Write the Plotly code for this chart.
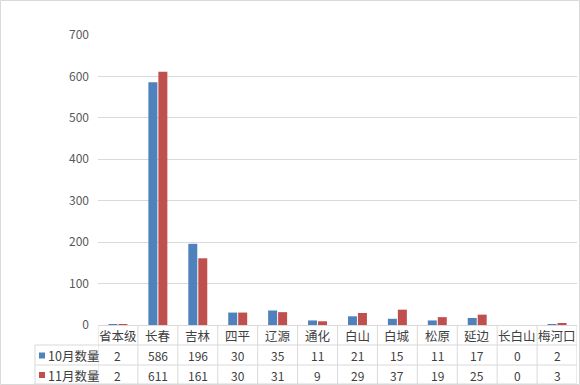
import plotly.graph_objects as go

categories = ["省本级", "长春", "吉林", "四平", "辽源", "通化", "白山", "白城", "松原", "延边", "长白山", "梅河口"]
oct_vals = [2, 586, 196, 30, 35, 11, 21, 15, 11, 17, 0, 2]
nov_vals = [2, 611, 161, 30, 31, 9, 29, 37, 19, 25, 0, 3]
series_names = ["10月数量", "11月数量"]
colors = ["#4F81BD", "#C0504D"]
y_ticks = [0, 100, 200, 300, 400, 500, 600, 700]

W, H = 580, 385
ML, MR, MT, MB = 98, 3, 35, 60
PW = W - ML - MR
PH = H - MT - MB

def py(p):
    return (H - MB - p) / PH

def px(p):
    return (p - ML) / PW

fig = go.Figure()
for name, vals, c in zip(series_names, [oct_vals, nov_vals], colors):
    fig.add_trace(go.Bar(x=categories, y=vals, name=name, marker=dict(color=c, line=dict(width=0))))

cjk = "Noto Sans CJK SC, Microsoft YaHei, sans-serif"
line_col = "#D9D9D9"
txt_col = "#404040"

shapes = []
annotations = []
n = len(categories)
for yy in [345, 365, 384]:
    shapes.append(dict(type="line", xref="paper", yref="paper", x0=px(35), x1=1, y0=py(yy), y1=py(yy),
                       line=dict(color=line_col, width=1)))
for i in range(n + 1):
    shapes.append(dict(type="line", xref="x", yref="paper", x0=i - 0.5, x1=i - 0.5, y0=py(325), y1=py(384),
                       line=dict(color=line_col, width=1)))
shapes.append(dict(type="line", xref="paper", yref="paper", x0=px(35), x1=px(35), y0=py(345), y1=py(384),
                   line=dict(color=line_col, width=1)))
shapes.append(dict(type="rect", xref="paper", yref="paper", x0=px(0.5), x1=px(579.5), y0=py(384.5), y1=py(0.5),
                   line=dict(color="#D9D9D9", width=1)))

for i, cat in enumerate(categories):
    annotations.append(dict(x=i, y=py(335.5), xref="x", yref="paper", text=cat, showarrow=False,
                            font=dict(family=cjk, size=12.5, color=txt_col), xanchor="center", yanchor="middle"))
    annotations.append(dict(x=i, y=py(355.5), xref="x", yref="paper", text=str(oct_vals[i]), showarrow=False,
                            font=dict(family=cjk, size=12, color=txt_col), xanchor="center", yanchor="middle"))
    annotations.append(dict(x=i, y=py(375), xref="x", yref="paper", text=str(nov_vals[i]), showarrow=False,
                            font=dict(family=cjk, size=12, color=txt_col), xanchor="center", yanchor="middle"))

for k, (name, c, yy) in enumerate(zip(series_names, colors, [355.5, 375])):
    shapes.append(dict(type="rect", xref="paper", yref="paper", x0=px(39), x1=px(45), y0=py(yy + 3), y1=py(yy - 3),
                       fillcolor=c, line=dict(width=0)))
    annotations.append(dict(x=px(46), y=py(yy), xref="paper", yref="paper", text=name, showarrow=False,
                            font=dict(family=cjk, size=12.5, color=txt_col), xanchor="left", yanchor="middle"))

fig.update_layout(
    width=W, height=H,
    margin=dict(l=ML, r=MR, t=MT, b=MB),
    paper_bgcolor="white", plot_bgcolor="white",
    barmode="group", bargap=0.5, bargroupgap=0.1,
    showlegend=False,
    shapes=shapes, annotations=annotations,
    xaxis=dict(showticklabels=False, showgrid=False, range=[-0.5, n - 0.5], showline=True,
               linecolor=line_col, linewidth=1, ticks="", fixedrange=True),
    yaxis=dict(range=[0, 700], tickvals=y_ticks, showgrid=True, gridcolor=line_col, gridwidth=1,
               zeroline=False, showline=False, ticks="", ticklabelstandoff=8,
               tickfont=dict(family=cjk, size=12, color="#595959"), fixedrange=True),
)

fig.write_html("out.html", config={"displayModeBar": False},
               post_script="document.body.style.margin='0';document.body.style.overflow='hidden';")
